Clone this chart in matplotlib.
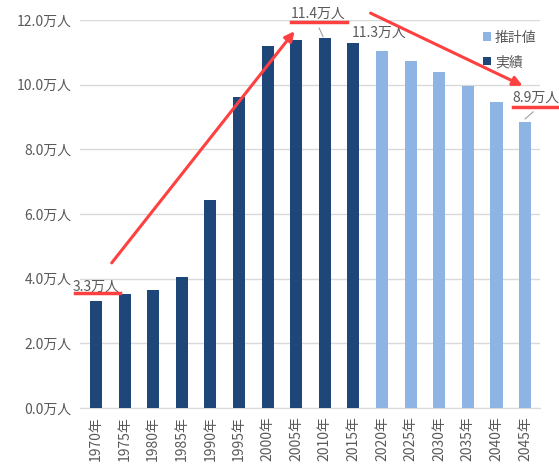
import matplotlib.pyplot as plt
import numpy as np

plt.rcParams['font.family'] = ['Noto Sans CJK JP', 'DejaVu Sans']

years = ["1970年", "1975年", "1980年", "1985年", "1990年", "1995年", "2000年", "2005年",
         "2010年", "2015年", "2020年", "2025年", "2030年", "2035年", "2040年", "2045年"]
actual = [3.30, 3.53, 3.65, 4.05, 6.43, 9.62, 11.20, 11.38, 11.44, 11.29]
estimate = [11.04, 10.73, 10.39, 9.96, 9.46, 8.86]
yticks = [0, 2, 4, 6, 8, 10, 12]

dark = "#1F4679"
light = "#8EB4E3"
grey = "#595959"
red = "#FF4040"

fig = plt.figure(figsize=(5.59, 4.65), dpi=100)
ax = fig.add_axes([0.143, 0.1226, 0.823, 0.8344])

x_act = np.arange(len(actual))
x_est = np.arange(len(actual), len(years))
ax.bar(x_est, estimate, width=0.42, color=light, label="推計値", zorder=3)
ax.bar(x_act, actual, width=0.42, color=dark, label="実績", zorder=3)

ax.set_xlim(-0.56, 15.52)
ax.set_ylim(0, 12)
ax.set_yticks(yticks)
ax.set_yticklabels([f"{v:.1f}万人" for v in yticks], color=grey, fontsize=10)
ax.set_xticks(range(len(years)))
ax.set_xticklabels(years, rotation=90, color=grey, fontsize=10)
ax.tick_params(length=0, pad=6)
ax.yaxis.grid(True, color="#D9D9D9", linewidth=1, zorder=0)
for s in ["top", "right", "left"]:
    ax.spines[s].set_visible(False)
ax.spines["bottom"].set_color("#D9D9D9")

# value labels
ax.text(-0.80, 3.62, "3.3万人", color=grey, fontsize=10, ha="left", va="baseline", clip_on=False)
ax.text(6.82, 12.06, "11.4万人", color=grey, fontsize=10, ha="left", va="baseline", clip_on=False)
ax.plot([7.80, 7.94], [11.75, 11.48], color="#A0A0A0", lw=0.8, clip_on=False)
ax.text(8.95, 11.48, "11.3万人", color=grey, fontsize=10, ha="left", va="baseline", clip_on=False)
ax.text(14.54, 9.46, "8.9万人", color=grey, fontsize=10, ha="left", va="baseline", clip_on=False)
ax.plot([15.28, 15.0], [9.16, 8.94], color="#A0A0A0", lw=0.8, clip_on=False)

# red annotations
ax.plot([-0.73, 0.84], [3.56, 3.56], color=red, lw=2.5, clip_on=False, zorder=5)
ax.plot([6.82, 8.78], [11.94, 11.94], color=red, lw=2.5, clip_on=False, zorder=5)
ax.plot([14.58, 16.2], [9.31, 9.31], color=red, lw=2.5, clip_on=False, zorder=5)
ax.annotate("", xy=(7.0, 11.72), xytext=(0.49, 4.42), annotation_clip=False,
            arrowprops=dict(arrowstyle="-|>", color=red, lw=2.2, mutation_scale=14), zorder=5)
ax.annotate("", xy=(15.0, 9.93), xytext=(9.51, 12.25), annotation_clip=False,
            arrowprops=dict(arrowstyle="-|>", color=red, lw=2.2, mutation_scale=14), zorder=5)

leg = ax.legend(loc="upper right", bbox_to_anchor=(1.02, 1.005), frameon=False, fontsize=10,
                handlelength=0.6, handleheight=0.6, handletextpad=0.3, labelspacing=0.75)
for t in leg.get_texts():
    t.set_color(grey)

fig.savefig("out.png", dpi=100)
